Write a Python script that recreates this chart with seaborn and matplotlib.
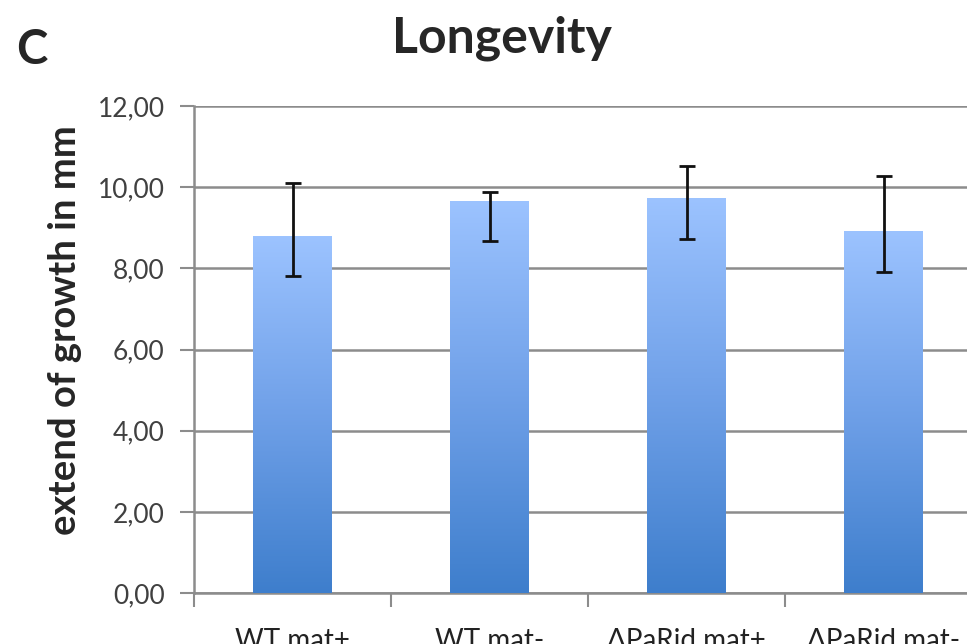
import numpy as np
import pandas as pd
import seaborn as sns
import matplotlib.pyplot as plt
from matplotlib.colors import LinearSegmentedColormap
from matplotlib.ticker import FuncFormatter

# dados
grupos = ["WT mat+", "WT mat-", "ΔPaRid mat+", "ΔPaRid mat-"]
medias = [8.79, 9.67, 9.74, 8.92]
erro_baixo = [0.98, 1.00, 1.02, 1.01]
erro_cima = [1.31, 0.20, 0.78, 1.36]

df = pd.DataFrame({"grupo": grupos, "media": medias})

sns.set_style("white")
plt.rcParams["font.family"] = ["Lato", "DejaVu Sans"]

fig = plt.figure(figsize=(9.67, 6.44), dpi=100)
ax = fig.add_axes([194 / 967, 51 / 644, 788 / 967, 487 / 644])

sns.barplot(data=df, x="grupo", y="media", width=0.4, color="#6fa0e8",
            errorbar=None, ax=ax, zorder=3)

# gradiente em cada barra (claro em cima, escuro embaixo)
cmap = LinearSegmentedColormap.from_list("grad", ["#3e7ecc", "#6fa0e8", "#9cc3ff"])
grad = np.linspace(0, 1, 256).reshape(-1, 1)
for p in ax.patches:
    x0, y0 = p.get_x(), p.get_y()
    w, h = p.get_width(), p.get_height()
    p.set_facecolor("none")
    p.set_edgecolor("none")
    img = ax.imshow(grad, cmap=cmap, aspect="auto", origin="lower",
                    extent=[x0, x0 + w, y0, y0 + h], zorder=3)
    img.set_clip_path(p)

ax.errorbar(range(len(grupos)), medias, yerr=[erro_baixo, erro_cima],
            fmt="none", ecolor="#111111", elinewidth=2, capsize=6,
            capthick=2, zorder=4)

ax.set_xlim(-0.5, 3.5)
ax.set_ylim(0, 12)
ax.set_yticks(np.arange(0, 12.01, 2))
ax.yaxis.set_major_formatter(FuncFormatter(lambda v, _: f"{v:.2f}".replace(".", ",")))
ax.set_xticks(range(len(grupos)))
ax.set_xticklabels(grupos)
ax.set_xticks([-0.5, 0.5, 1.5, 2.5], minor=True)

ax.grid(axis="y", color="#8c8c8c", linewidth=1.8, zorder=1)
ax.set_axisbelow(True)
for s in ["top", "right"]:
    ax.spines[s].set_visible(False)
for s in ["left", "bottom"]:
    ax.spines[s].set_color("#8c8c8c")
    ax.spines[s].set_linewidth(1.8)

ax.tick_params(axis="y", which="major", left=True, length=10, width=1.5,
               color="#8c8c8c", pad=11, labelsize=19, labelcolor="#404040")
ax.tick_params(axis="x", which="major", bottom=False, pad=22, labelsize=20,
               labelcolor="#222222")
ax.tick_params(axis="x", which="minor", bottom=True, length=10, width=1.5,
               color="#8c8c8c")

ax.set_xlabel("")
ax.set_ylabel("extend of growth in mm", fontsize=27.5, fontweight="bold")
ax.yaxis.set_label_coords(-0.142, 0.54)

fig.text(502 / 967, 1 - 38 / 644, "Longevity", ha="center", va="center",
         fontsize=36, fontweight="bold")
fig.text(16 / 967, 1 - 50 / 644, "C", ha="left", va="center",
         fontsize=34, fontweight="bold")

fig.savefig("out.png", dpi=100)
